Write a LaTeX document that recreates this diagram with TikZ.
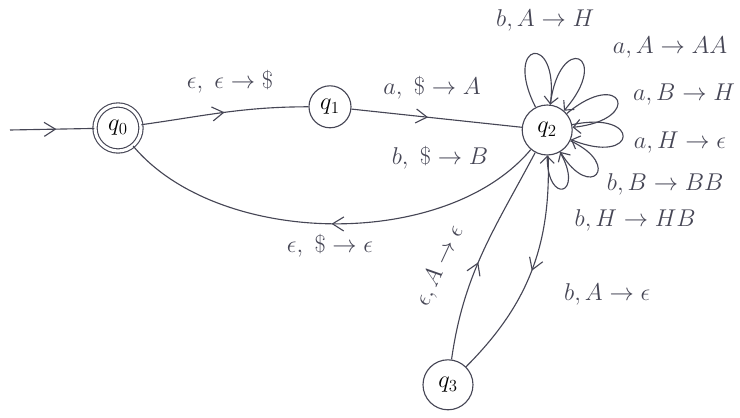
\documentclass[tikz,border=0pt]{standalone}
\usepackage{amsmath}
\usetikzlibrary{arrows.meta, decorations.markings}
\definecolor{Pencil}{RGB}{70,70,85}

\begin{document}
\begin{tikzpicture}[
          st/.style={circle, draw=Pencil, thick, minimum size=1.05cm,
                     inner sep=0pt, font=\LARGE},
          acc/.style={st, double=white, double distance=2.2pt},
          lbl/.style={font=\LARGE, text=Pencil, inner sep=1pt},
          arr/.style={-{Straight Barb[length=5pt]}, draw=Pencil, thick},
          midarr/.style={draw=Pencil, thick, postaction={decorate},
                     decoration={markings, mark=at position #1 with
                     {\arrow[Pencil]{Straight Barb[length=8pt, width=10pt]}}}},
          midarr/.default=0.5
        ]
        \useasboundingbox (0,0) rectangle (18.5,10.45);

        % States
        \node[acc, minimum size=1.15cm] (q0) at (2.95, 7.25) {$q_0$};
        \node[st] (q1) at (8.25, 7.78) {$q_1$};
        \node[st, minimum size=1.25cm] (q2) at (13.68, 7.2) {$q_2$};
        \node[st, minimum size=1.25cm] (q3) at (11.2, 0.83) {$q_3$};
        \coordinate (start) at (0.25, 7.2);

        % Transitions
        \draw[midarr=0.55] (start) -- (q0);
        \draw[midarr] (q0) to[out=8, in=180] (q1);
        \node[lbl] (l01) at (5.75, 8.4) {$\epsilon,\ \epsilon \to \$$};
        \draw[midarr=0.45] (q1) -- (q2);
        \node[lbl] (l12a) at (10.8, 8.25) {$a,\ \$ \to A$};
        \node[lbl] (l12b) at (11.0, 6.5) {$b,\ \$ \to B$};
        \draw[midarr] (q2) to[out=-130, in=-50, looseness=0.85] (q0);
        \node[lbl] (l20) at (8.25, 4.3) {$\epsilon,\ \$ \to \epsilon$};
        \draw[midarr] (q2) to[out=-88, in=45] (q3);
        \node[lbl] (l23) at (15.18, 3.08) {$b, A \to \epsilon$};
        \draw[midarr=0.45] (q3) to[out=82, in=-118] (q2);
        \node[lbl, rotate=65] (l32) at (11.0, 3.8) {$\epsilon, A \to \epsilon$};

        % Self loops on q2
        \draw[arr] (q2) to[out=117, in=83, looseness=8, min distance=1.85cm] (q2);
        \node[lbl] (s1) at (13.63, 9.95) {$b, A \to H$};
        \draw[arr] (q2) to[out=83, in=49, looseness=8, min distance=1.85cm] (q2);
        \node[lbl] (s2) at (16.75, 9.25) {$a, A \to AA$};
        \draw[arr] (q2) to[out=40, in=6, looseness=8, min distance=1.8cm] (q2);
        \node[lbl] (s3) at (17.1, 8.08) {$a, B \to H$};
        \draw[arr] (q2) to[out=12, in=-22, looseness=8, min distance=1.8cm] (q2);
        \node[lbl] (s4) at (17.0, 6.88) {$a, H \to \epsilon$};
        \draw[arr] (q2) to[out=-25, in=-59, looseness=8, min distance=1.45cm] (q2);
        \node[lbl] (s5) at (16.63, 5.85) {$b, B \to BB$};
        \draw[arr] (q2) to[out=-60, in=-90, looseness=8, min distance=1.25cm] (q2);
        \node[lbl] (s6) at (15.88, 4.95) {$b, H \to HB$};
      \end{tikzpicture}
\end{document}
